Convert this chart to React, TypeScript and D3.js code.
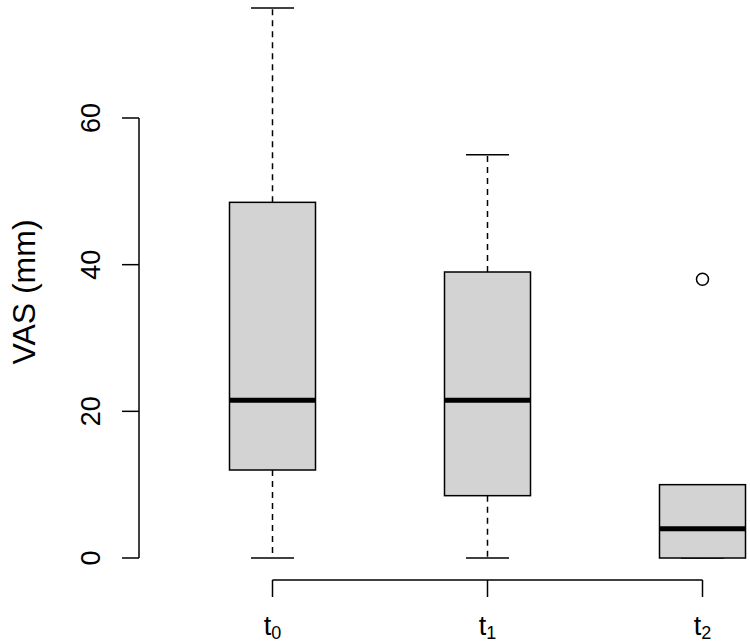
import React from 'react';
import * as d3 from 'd3';

// Boxplot stats
const groups = ['0', '1', '2'];
const lowerWhisker = [0, 0, 0];
const q1 = [12, 8.5, 0];
const median = [21.5, 21.5, 4];
const q3 = [48.5, 39, 10];
const upperWhisker = [75, 55, 10];
const outliers: number[][] = [[], [], [38]];
const yTicks = [0, 20, 40, 60];

const W = 750;
const H = 644;

const App = () => {
  const x = d3.scaleLinear().domain([0, 2]).range([272.5, 702.5]);
  const y = d3.scaleLinear().domain([0, 60]).range([558, 118]);
  const boxW = 86;
  const capW = 43;
  const font = 'Liberation Sans, Arial, sans-serif';
  const fs = 27;
  const axisY = 580;
  const axisX = 139;

  return (
    <svg width={W} height={H} style={{ position: 'absolute', left: 0, top: 0, background: '#fff' }} fontFamily={font}>
      {groups.map((g, i) => {
        const cx = x(i);
        return (
          <g key={g}>
            <line x1={cx} x2={cx} y1={y(q3[i])} y2={y(upperWhisker[i])} stroke="#000" strokeWidth={1.5} strokeDasharray="6,5" />
            <line x1={cx} x2={cx} y1={y(q1[i])} y2={y(lowerWhisker[i])} stroke="#000" strokeWidth={1.5} strokeDasharray="6,5" />
            <line x1={cx - capW / 2} x2={cx + capW / 2} y1={y(upperWhisker[i])} y2={y(upperWhisker[i])} stroke="#000" strokeWidth={1.5} />
            <line x1={cx - capW / 2} x2={cx + capW / 2} y1={y(lowerWhisker[i])} y2={y(lowerWhisker[i])} stroke="#000" strokeWidth={1.5} />
            <rect x={cx - boxW / 2} width={boxW} y={y(q3[i])} height={y(q1[i]) - y(q3[i])} fill="#d3d3d3" stroke="#000" strokeWidth={1.5} />
            <line x1={cx - boxW / 2} x2={cx + boxW / 2} y1={y(median[i])} y2={y(median[i])} stroke="#000" strokeWidth={5} />
            {outliers[i].map((o, j) => (
              <circle key={j} cx={cx} cy={y(o)} r={6} fill="none" stroke="#000" strokeWidth={1.5} />
            ))}
          </g>
        );
      })}

      {/* y axis */}
      <line x1={axisX} x2={axisX} y1={y(60)} y2={y(0)} stroke="#000" strokeWidth={1.5} />
      {yTicks.map((t) => (
        <g key={t}>
          <line x1={axisX - 17} x2={axisX} y1={y(t)} y2={y(t)} stroke="#000" strokeWidth={1.5} />
          <text x={100} y={y(t)} transform={`rotate(-90,100,${y(t)})`} textAnchor="middle" fontSize={fs}>{t}</text>
        </g>
      ))}
      <text x={35} y={292} transform="rotate(-90,35,292)" textAnchor="middle" fontSize={32}>VAS (mm)</text>

      {/* x axis */}
      <line x1={x(0)} x2={x(2)} y1={axisY} y2={axisY} stroke="#000" strokeWidth={1.5} />
      {groups.map((g, i) => (
        <g key={g}>
          <line x1={x(i)} x2={x(i)} y1={axisY} y2={axisY + 17} stroke="#000" strokeWidth={1.5} />
          <text x={x(i)} y={635} textAnchor="middle" fontSize={fs}>
            t<tspan fontSize={18} dy={4}>{g}</tspan>
          </text>
        </g>
      ))}
    </svg>
  );
};

export default App;
